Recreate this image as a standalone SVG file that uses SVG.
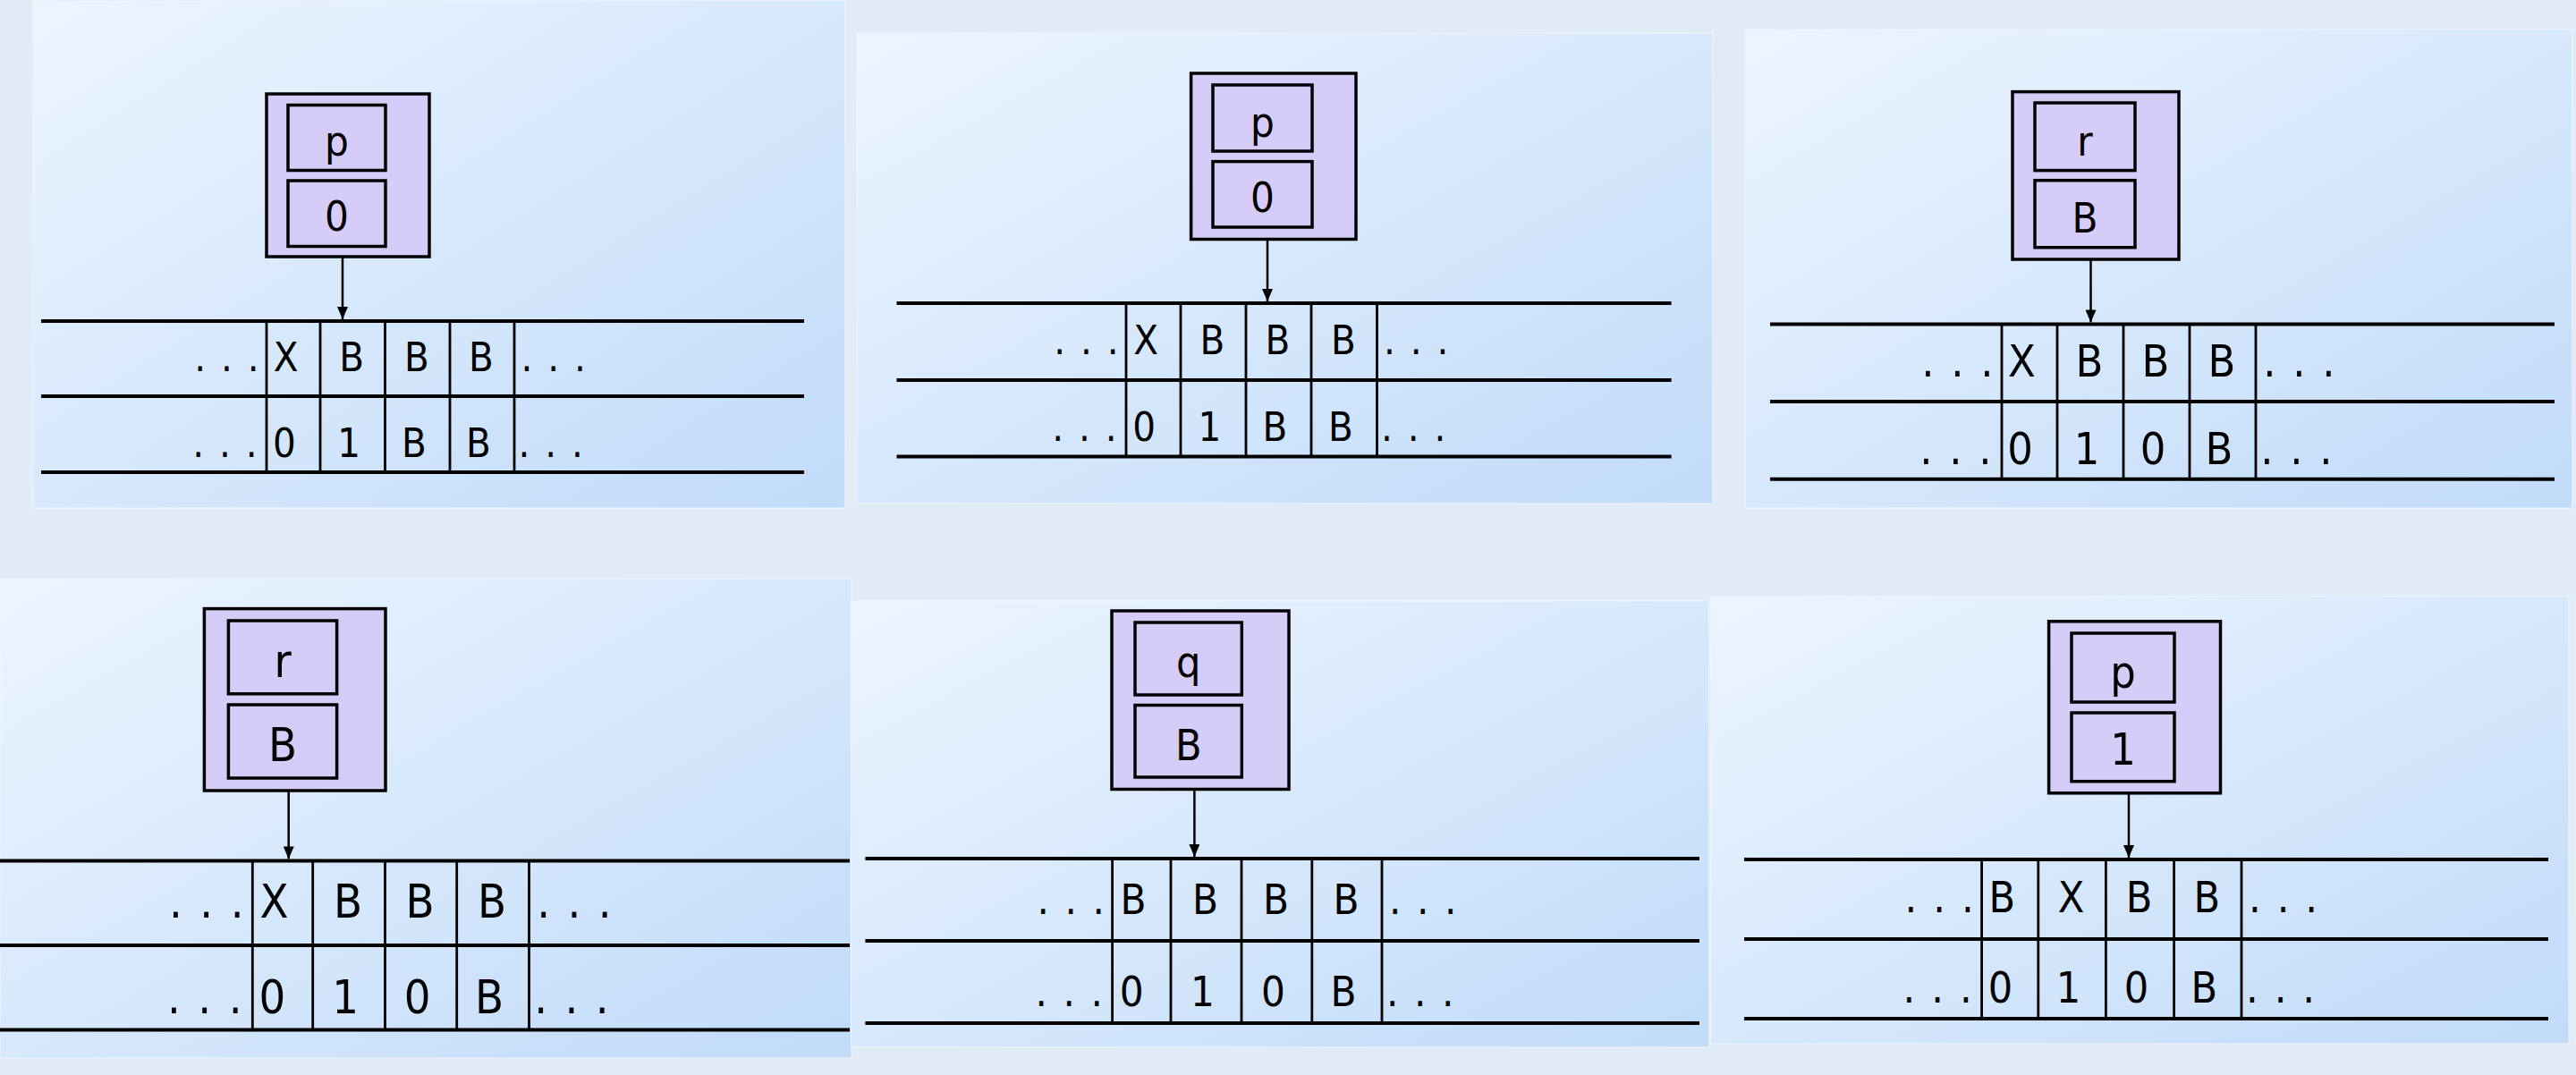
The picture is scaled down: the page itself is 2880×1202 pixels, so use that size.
<svg xmlns="http://www.w3.org/2000/svg" width="2880" height="1202" viewBox="0 0 2880 1202">
<defs>
<linearGradient id="pg" x1="0" y1="0" x2="1" y2="1">
<stop offset="0" stop-color="#ecf5ff"/>
<stop offset="1" stop-color="#c1dbf9"/>
</linearGradient>
<marker id="ah" viewBox="0 0 14 12" refX="14" refY="6" markerWidth="14" markerHeight="12" markerUnits="userSpaceOnUse" orient="auto">
<path d="M0,0 L14,6 L0,12 z" fill="#000"/>
</marker>
<style>
.panel{fill:url(#pg);stroke:#eef6ff;stroke-width:1}
.outer{fill:#d6ccf8;stroke:#000;stroke-width:3.5}
.inner{fill:#d6ccf8;stroke:#000;stroke-width:3.5}
.tape{stroke:#000;stroke-width:4;fill:none}
.div{stroke:#000;stroke-width:2.8;fill:none}
.arr{stroke:#000;stroke-width:2.5;fill:none;marker-end:url(#ah)}
text{font-family:'DejaVu Sans Condensed','DejaVu Sans',sans-serif;font-stretch:condensed;fill:#000;text-anchor:middle}
</style>
</defs>
<rect width="2880" height="1202" fill="#e1ebf5"/>

<!-- Panel 1 -->
<g id="panel1">
<rect class="panel" x="37" y="1" width="908" height="567"/>
<g id="p1-head">
<rect class="outer" x="298" y="105" width="182" height="182"/>
<rect class="inner" x="322" y="117.5" width="109" height="73"/>
<rect class="inner" x="322" y="202" width="109" height="73.5"/>
<text x="376.5" y="174" font-size="47">p</text>
<text x="376.5" y="258" font-size="47">0</text>
</g>
<g id="p1-tape">
<path class="tape" d="M46,359H899M46,443H899M46,528H899"/>
<path class="div" d="M298,359V528M358,359V528M430.5,359V528M503,359V528M575,359V528"/>
<g font-size="45">
<text x="223.8 253.5 283.2" y="415">...</text>
<text x="319.6" y="415">X</text><text x="393.2" y="415">B</text><text x="465.8" y="415">B</text><text x="538" y="415">B</text>
<text x="589 618.7 648.4" y="415">...</text>
<text x="221.8 251.5 281.2" y="511">...</text>
<text x="317.8" y="511">0</text><text x="390.2" y="511">1</text><text x="462.8" y="511">B</text><text x="535" y="511">B</text>
<text x="586 615.7 645.4" y="511">...</text>
</g>
</g>
</g>

<!-- Panel 2 -->
<g id="panel2">
<rect class="panel" x="958" y="37" width="957" height="526"/>
<g id="p2-head">
<rect class="outer" x="1331.6" y="82" width="184.4" height="185.5"/>
<rect class="inner" x="1356" y="95" width="111" height="74"/>
<rect class="inner" x="1356" y="180.6" width="111" height="73.4"/>
<text x="1411.5" y="153" font-size="47">p</text>
<text x="1411.5" y="237" font-size="47">0</text>
</g>
<g id="p2-tape">
<path class="tape" d="M1002.5,339H1868.6M1002.5,425H1868.6M1002.5,510.5H1868.6"/>
<path class="div" d="M1259,339V510.5M1320,339V510.5M1393,339V510.5M1466,339V510.5M1539.5,339V510.5"/>
<g font-size="45">
<text x="1184.8 1214.5 1244.2" y="396">...</text>
<text x="1281" y="396">X</text><text x="1355.5" y="396">B</text><text x="1428.5" y="396">B</text><text x="1501.8" y="396">B</text>
<text x="1553.5 1583.2 1612.9" y="396">...</text>
<text x="1182.8 1212.5 1242.2" y="493">...</text>
<text x="1279.1" y="493">0</text><text x="1352.5" y="493">1</text><text x="1425.5" y="493">B</text><text x="1498.8" y="493">B</text>
<text x="1550.5 1580.2 1609.9" y="493">...</text>
</g>
</g>
</g>

<!-- Panel 3 -->
<g id="panel3">
<rect class="panel" x="1951" y="33" width="925" height="535"/>
<g id="p3-head">
<rect class="outer" x="2250" y="102.6" width="186" height="187.4"/>
<rect class="inner" x="2275" y="115" width="112" height="75.6"/>
<rect class="inner" x="2275" y="201.7" width="112" height="75"/>
<text x="2331" y="174" font-size="47">r</text>
<text x="2331" y="260" font-size="47">B</text>
</g>
<g id="p3-tape">
<path class="tape" d="M1979,362.4H2856M1979,449H2856M1979,535.8H2856"/>
<path class="div" d="M2238,362.4V535.8M2300,362.4V535.8M2374,362.4V535.8M2448,362.4V535.8M2522,362.4V535.8"/>
<g font-size="50">
<text x="2155.5 2188.5 2221.5" y="421">...</text>
<text x="2260.3" y="421">X</text><text x="2336" y="421">B</text><text x="2410" y="421">B</text><text x="2484" y="421">B</text>
<text x="2537.5 2570.5 2603.5" y="421">...</text>
<text x="2153.5 2186.5 2219.5" y="518.5">...</text>
<text x="2258.5" y="518.5">0</text><text x="2333" y="518.5">1</text><text x="2407" y="518.5">0</text><text x="2481" y="518.5">B</text>
<text x="2534.5 2567.5 2600.5" y="518.5">...</text>
</g>
</g>
</g>

<!-- Panel 4 -->
<g id="panel4">
<rect class="panel" x="0" y="647" width="952" height="536"/>
<g id="p4-head">
<rect class="outer" x="228.4" y="680.6" width="202.6" height="203.4"/>
<rect class="inner" x="255.4" y="694" width="121.2" height="81.8"/>
<rect class="inner" x="255.4" y="788" width="121.2" height="82"/>
<text x="316" y="757.4" font-size="52">r</text>
<text x="316" y="851.4" font-size="52">B</text>
</g>
<g id="p4-tape">
<path class="tape" d="M0,962.4H950M0,1057H950M0,1151.6H950"/>
<path class="div" d="M282.3,962.4V1151.6M349.7,962.4V1151.6M430.5,962.4V1151.6M510.7,962.4V1151.6M591.5,962.4V1151.6"/>
<g font-size="52">
<text x="196.5 230.8 265.1" y="1026">...</text>
<text x="306.6" y="1026">X</text><text x="389.1" y="1026">B</text><text x="469.6" y="1026">B</text><text x="550.1" y="1026">B</text>
<text x="607.6 641.9 676.3" y="1026">...</text>
<text x="194.5 228.8 263.1" y="1133">...</text>
<text x="304.5" y="1133">0</text><text x="386.1" y="1133">1</text><text x="466.6" y="1133">0</text><text x="547.1" y="1133">B</text>
<text x="604.6 638.9 673.3" y="1133">...</text>
</g>
</g>
</g>

<!-- Panel 5 -->
<g id="panel5">
<rect class="panel" x="951.5" y="672" width="959.2" height="499"/>
<g id="p5-head">
<rect class="outer" x="1243" y="683" width="198" height="199.5"/>
<rect class="inner" x="1269" y="696" width="119.3" height="81"/>
<rect class="inner" x="1269" y="788.5" width="119.3" height="80.5"/>
<text x="1328.7" y="757.4" font-size="48">q</text>
<text x="1328.7" y="850.3" font-size="48">B</text>
</g>
<g id="p5-tape">
<path class="tape" d="M967.4,960H1900M967.4,1052H1900M967.4,1144H1900"/>
<path class="div" d="M1243.6,960V1144M1309,960V1144M1388,960V1144M1466.8,960V1144M1545,960V1144"/>
<g font-size="47">
<text x="1166.1 1197.1 1228.1" y="1022">...</text>
<text x="1267.1" y="1022">B</text><text x="1347.5" y="1022">B</text><text x="1426.4" y="1022">B</text><text x="1504.9" y="1022">B</text>
<text x="1559.6 1590.6 1621.6" y="1022">...</text>
<text x="1164.1 1195.1 1226.1" y="1125">...</text>
<text x="1265.2" y="1125">0</text><text x="1344.5" y="1125">1</text><text x="1423.4" y="1125">0</text><text x="1501.9" y="1125">B</text>
<text x="1556.6 1587.6 1618.6" y="1125">...</text>
</g>
</g>
</g>

<!-- Panel 6 -->
<g id="panel6">
<rect class="panel" x="1912.5" y="667" width="959.5" height="500"/>
<g id="p6-head">
<rect class="outer" x="2290.6" y="694.8" width="191.9" height="192"/>
<rect class="inner" x="2316" y="708" width="115" height="77"/>
<rect class="inner" x="2316" y="797" width="115" height="76.7"/>
<text x="2373.5" y="769" font-size="50">p</text>
<text x="2373.5" y="855.3" font-size="50">1</text>
</g>
<g id="p6-tape">
<path class="tape" d="M1950,961H2849M1950,1050H2849M1950,1139H2849"/>
<path class="div" d="M2215.6,961V1139M2278.8,961V1139M2354.4,961V1139M2430.6,961V1139M2506,961V1139"/>
<g font-size="48">
<text x="2136.4 2168.1 2199.8" y="1020">...</text>
<text x="2238.4" y="1020">B</text><text x="2315.6" y="1020">X</text><text x="2391.5" y="1020">B</text><text x="2467.3" y="1020">B</text>
<text x="2520.9 2552.6 2584.2" y="1020">...</text>
<text x="2134.4 2166.1 2197.8" y="1121">...</text>
<text x="2236.5" y="1121">0</text><text x="2312.6" y="1121">1</text><text x="2388.5" y="1121">0</text><text x="2464.3" y="1121">B</text>
<text x="2517.9 2549.6 2581.2" y="1121">...</text>
</g>
</g>
</g>

<!-- Connectors -->
<g id="connectors">
<line class="arr" x1="383" y1="287" x2="383" y2="357"/>
<line class="arr" x1="1417" y1="267.5" x2="1417" y2="337"/>
<line class="arr" x1="2337.5" y1="290" x2="2337.5" y2="360.4"/>
<line class="arr" x1="322.7" y1="884" x2="322.7" y2="960.4"/>
<line class="arr" x1="1335.4" y1="882.5" x2="1335.4" y2="958"/>
<line class="arr" x1="2380" y1="886.8" x2="2380" y2="959"/>
</g>
</svg>
